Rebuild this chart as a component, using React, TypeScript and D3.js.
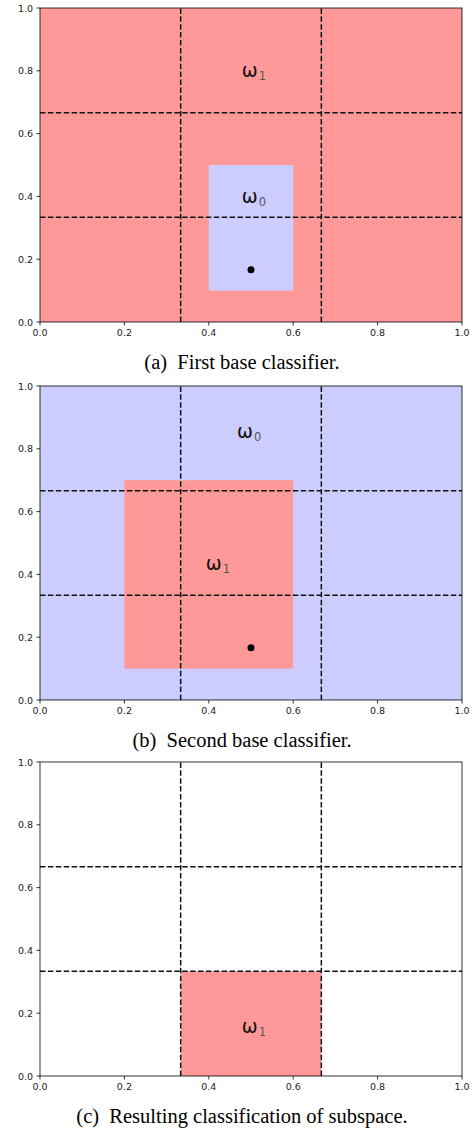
import React from 'react';
import * as d3 from 'd3';

// axis ticks and the dashed partition lines (data units)
const tickValues = [0, 0.2, 0.4, 0.6, 0.8, 1.0];
const splitLines = [1 / 3, 2 / 3];

// decision regions: [x0, x1, y0, y1, class]
const regionsA = [
  { x0: 0, x1: 1, y0: 0, y1: 1, cls: 1 },
  { x0: 0.4, x1: 0.6, y0: 0.1, y1: 0.5, cls: 0 },
];
const regionsB = [
  { x0: 0, x1: 1, y0: 0, y1: 1, cls: 0 },
  { x0: 0.2, x1: 0.6, y0: 0.1, y1: 0.7, cls: 1 },
];
const regionsC = [
  { x0: 1 / 3, x1: 2 / 3, y0: 0, y1: 1 / 3, cls: 1 },
];

// class labels (left/baseline anchored like ax.text)
const labelsA = [
  { x: 0.478, y: 0.78, cls: 1 },
  { x: 0.478, y: 0.38, cls: 0 },
];
const labelsB = [
  { x: 0.467, y: 0.834, cls: 0 },
  { x: 0.393, y: 0.414, cls: 1 },
];
const labelsC = [{ x: 0.478, y: 0.137, cls: 1 }];

const pointsA = [{ x: 0.5, y: 1 / 6 }];
const pointsB = [{ x: 0.5, y: 1 / 6 }];
const pointsC: { x: number; y: number }[] = [];

const captions = [
  '(a)\u00a0\u00a0First base classifier.',
  '(b)\u00a0\u00a0Second base classifier.',
  '(c)\u00a0\u00a0Resulting classification of subspace.',
];

const classColor: Record<number, string> = { 0: '#ccccff', 1: '#ff9999' };

const W = 474;
const H = 1130;
const left = 40;
const right = 462;
const plotH = 314;
const tops = [8, 386, 762];

type Region = { x0: number; x1: number; y0: number; y1: number; cls: number };
type Label = { x: number; y: number; cls: number };

function Panel({ top, regions, labels, points, caption }: {
  top: number; regions: Region[]; labels: Label[];
  points: { x: number; y: number }[]; caption: string;
}) {
  const x = d3.scaleLinear().domain([0, 1]).range([left, right]);
  const y = d3.scaleLinear().domain([0, 1]).range([top + plotH, top]);
  const fmt = d3.format('.1f');
  const tickFont = { fontFamily: 'DejaVu Sans', fontSize: 9.5, fill: '#222' };

  return (
    <g>
      {regions.map((r, i) => (
        <rect key={'r' + i} x={x(r.x0)} y={y(r.y1)} width={x(r.x1) - x(r.x0)}
          height={y(r.y0) - y(r.y1)} fill={classColor[r.cls]} />
      ))}
      {splitLines.map((v, i) => (
        <g key={'s' + i}>
          <line x1={x(v)} x2={x(v)} y1={y(0)} y2={y(1)} stroke="#111"
            strokeWidth={1.5} strokeDasharray="5.5,2.4" />
          <line x1={x(0)} x2={x(1)} y1={y(v)} y2={y(v)} stroke="#111"
            strokeWidth={1.5} strokeDasharray="5.5,2.4" />
        </g>
      ))}
      {points.map((p, i) => (
        <circle key={'p' + i} cx={x(p.x)} cy={y(p.y)} r={3.5} fill="#000" />
      ))}
      {labels.map((l, i) => (
        <text key={'l' + i} x={x(l.x)} y={y(l.y)} fontFamily="DejaVu Sans" fontSize={19} fill="#111">
          ω
          <tspan dx={1} dy={3} fontSize={11.5} fill="#555">{l.cls}</tspan>
        </text>
      ))}
      <rect x={left} y={top} width={right - left} height={plotH} fill="none"
        stroke="#000" strokeWidth={0.8} />
      {tickValues.map((t, i) => (
        <g key={'tx' + i}>
          <line x1={x(t)} x2={x(t)} y1={y(0)} y2={y(0) + 3.5} stroke="#000" strokeWidth={0.8} />
          <text x={x(t)} y={y(0) + 7} textAnchor="middle" dominantBaseline="hanging" {...tickFont}>
            {fmt(t)}
          </text>
          <line x1={left - 3.5} x2={left} y1={y(t)} y2={y(t)} stroke="#000" strokeWidth={0.8} />
          <text x={left - 7} y={y(t)} textAnchor="end" dominantBaseline="central" {...tickFont}>
            {fmt(t)}
          </text>
        </g>
      ))}
      <text x={242} y={top + plotH + 47} textAnchor="middle"
        fontFamily="Liberation Serif" fontSize={20.5} fill="#000">
        {caption}
      </text>
    </g>
  );
}

export default function App() {
  const regionSets = [regionsA, regionsB, regionsC];
  const labelSets = [labelsA, labelsB, labelsC];
  const pointSets = [pointsA, pointsB, pointsC];
  return (
    <svg width={W} height={H} style={{ position: 'absolute', left: 0, top: 0, background: '#fff' }}>
      {tops.map((t, i) => (
        <Panel key={i} top={t} regions={regionSets[i]} labels={labelSets[i]}
          points={pointSets[i]} caption={captions[i]} />
      ))}
    </svg>
  );
}
